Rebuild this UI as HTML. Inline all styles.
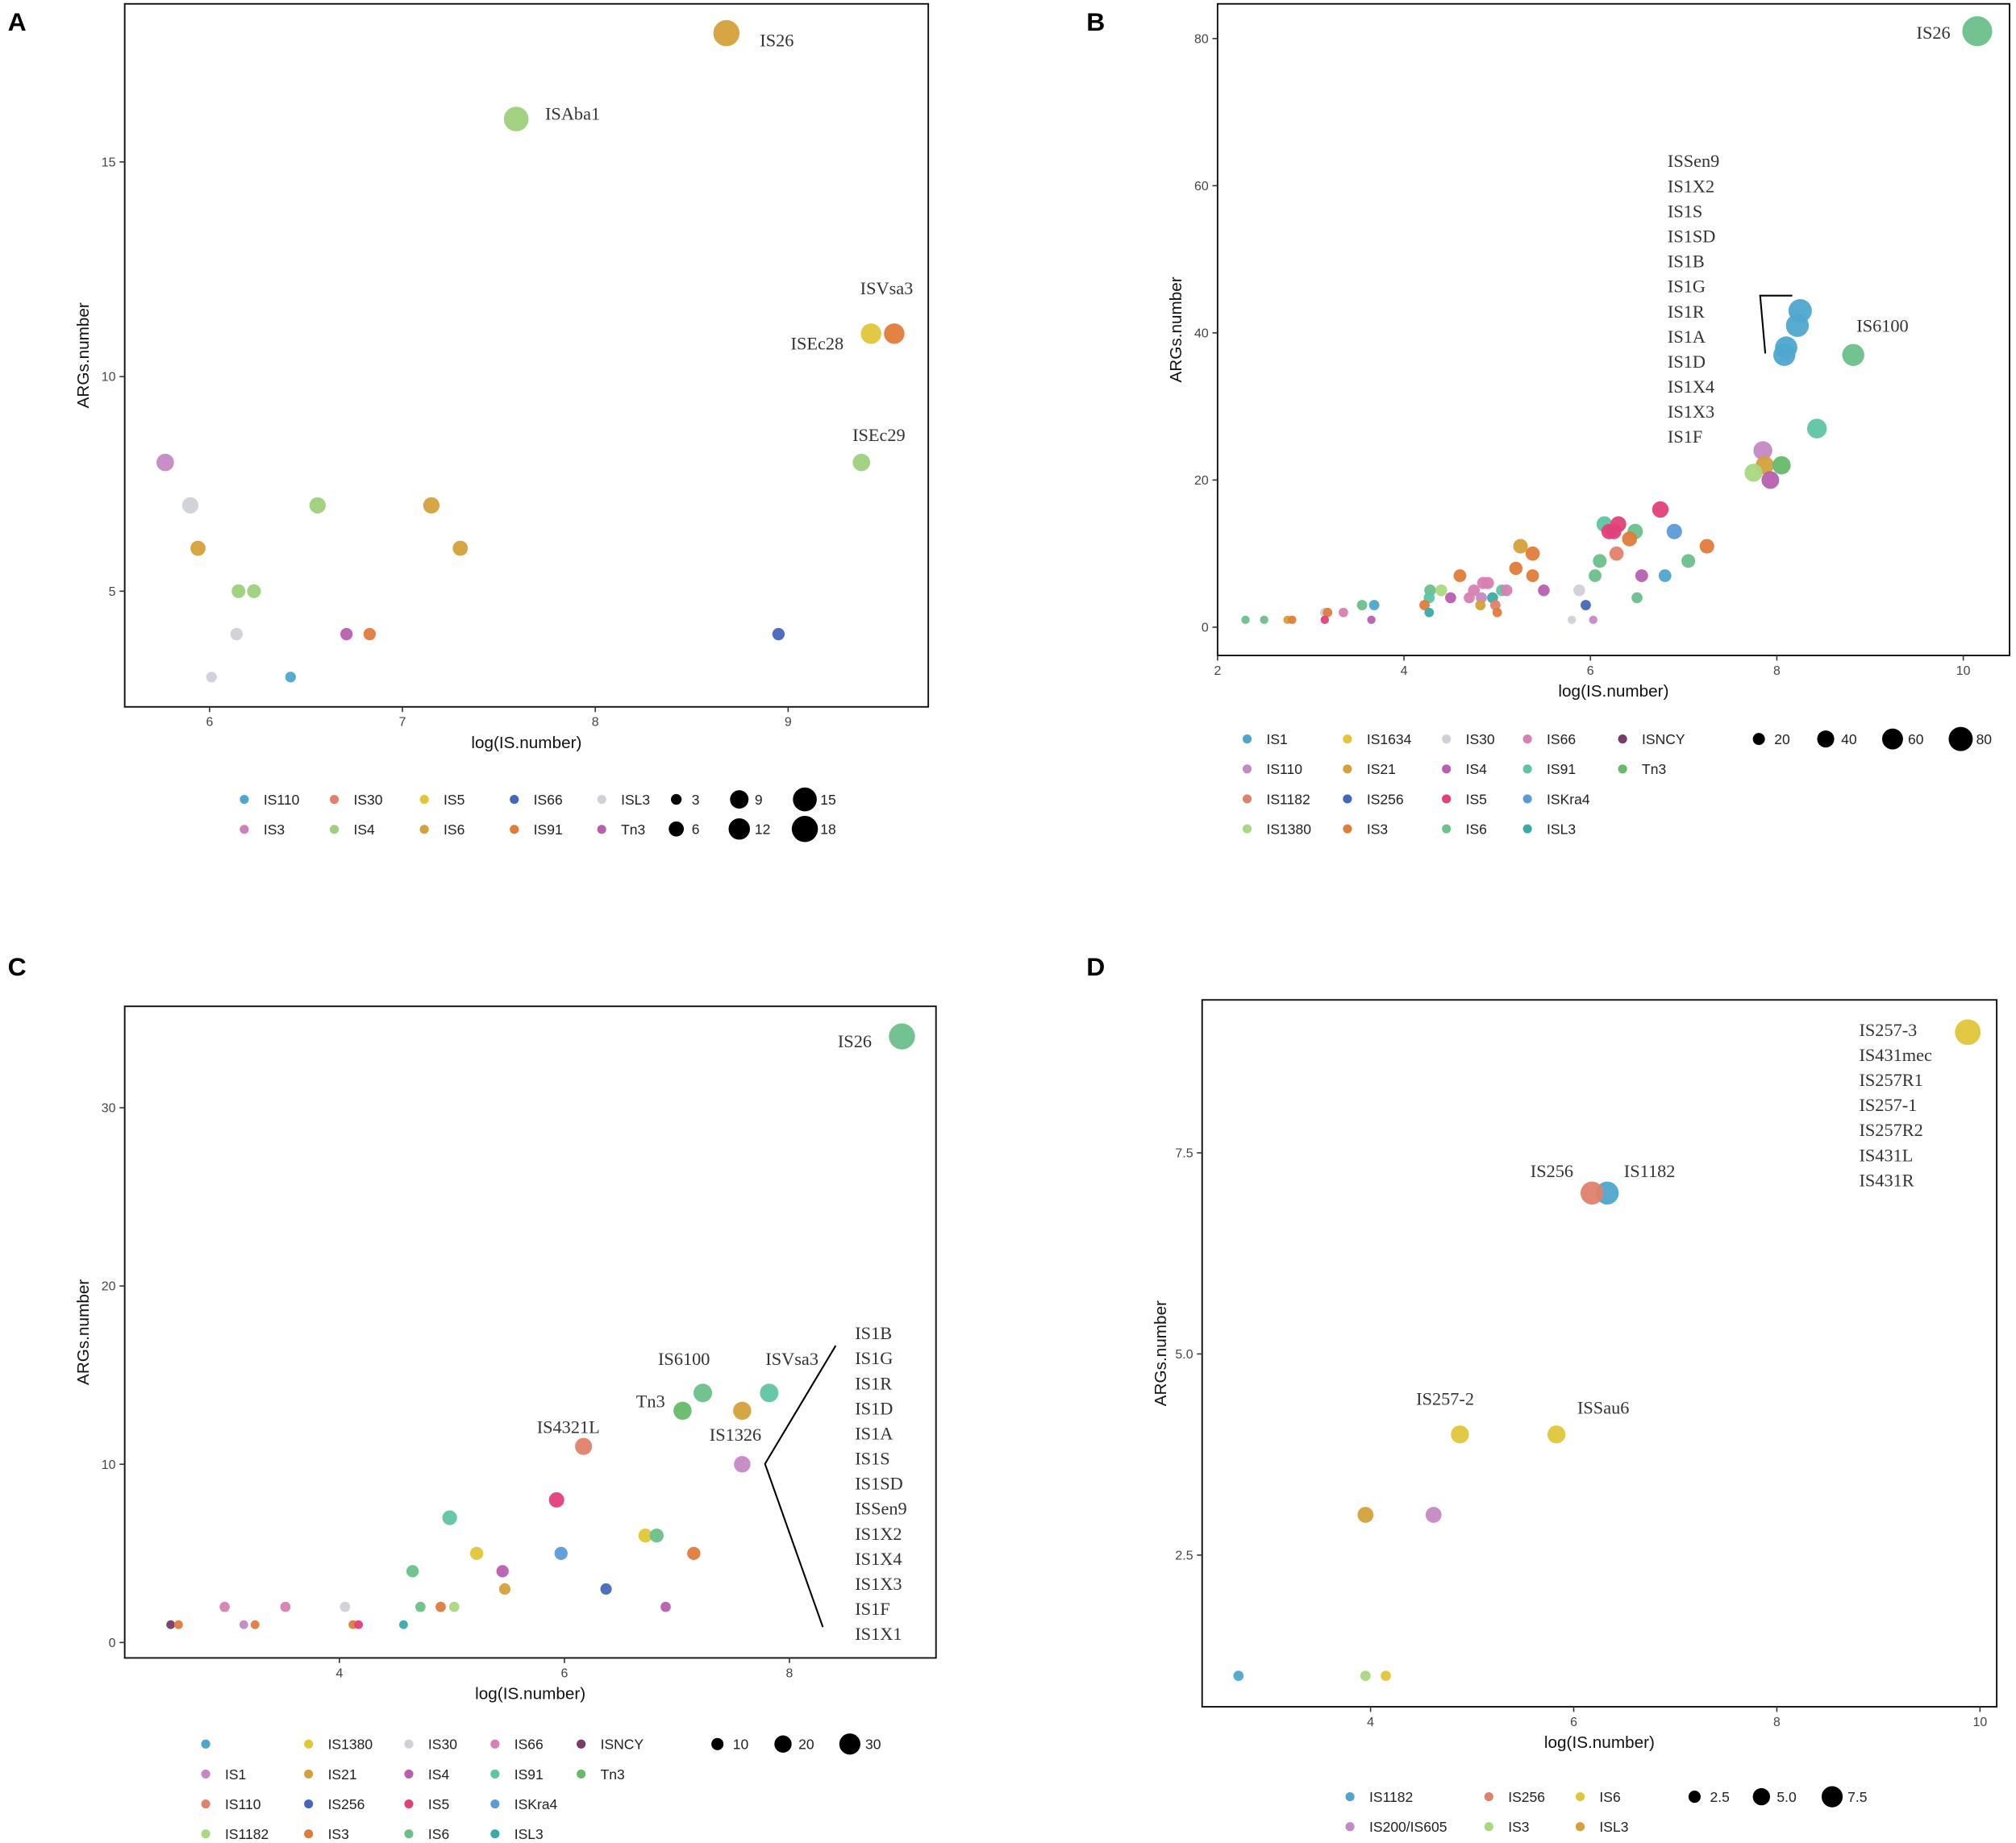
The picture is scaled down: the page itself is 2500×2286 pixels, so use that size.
<!DOCTYPE html>
<html><head><meta charset="utf-8"><style>
html,body{margin:0;padding:0;background:#fff}
svg{display:block}
text{font-family:"Liberation Sans",sans-serif}
.lab{font-family:"Liberation Serif",serif;font-size:14px;fill:#333}
.tick{font-size:10px;fill:#444}
.ttl{font-size:13px;fill:#111}
.leg{font-size:11px;fill:#222}
.pl{font-size:20px;font-weight:bold;fill:#000}
</style></head><body>
<svg id="s" width="2500" height="2286" viewBox="0 0 1568 1434" preserveAspectRatio="none"></svg>
<script>
const C={IS1:"#4EA6CE",IS110:"#C488C4",IS1182:"#E0826A",IS1380:"#A8D880",IS1634:"#E0C63A",IS21:"#D4A13A",IS256:"#4466BB",IS3:"#E07B3A",IS30:"#D0D0D8",IS4:"#B85FB0",IS5:"#E0407A",IS6:"#6CC08A",IS66:"#D880B0",IS91:"#5EC4A4",ISKra4:"#5B9BD8",ISL3:"#3AAAA8",ISNCY:"#7A3A6A",Tn3:"#66BB6A"};
// Panel A data
const aX=[8.68,7.59,9.55,9.43,9.38,5.77,5.9,5.94,6.15,6.23,6.14,6.01,6.42,6.56,7.15,7.3,6.71,6.83,8.95];
const aY=[18,16,11,11,8,8,7,6,5,5,4,3,3,7,7,6,4,4,4];
const aCol=["#D4A13A","#9ED07C","#E07B3A","#E0C63A","#9ED07C","#C488C4","#D0D0D8","#D4A13A","#9ED07C","#9ED07C","#D0D0D8","#D0D0D8","#4EA6CE","#9ED07C","#D4A13A","#D4A13A","#B85FB0","#E07B3A","#4466BB"];
const aXTicks=[6,7,8,9];const aYTicks=[5,10,15];
// Panel B data
const bX=[10.15,8.25,8.22,8.1,8.08,8.82,8.43,7.85,7.87,8.05,7.75,7.93,6.75,6.15,6.3,6.2,6.25,6.48,6.9,6.42,7.25,6.28,5.25,5.38,7.05,6.1,5.2,4.6,5.38,6.05,6.55,6.8,4.28,4.4,4.85,4.9,4.75,5.05,5.1,5.5,5.88,4.27,4.5,4.7,4.83,4.95,3.55,3.68,4.22,4.82,4.98,6.5,5.95,3.15,3.18,3.35,4.27,5.0,2.3,2.5,2.75,2.8,3.15,3.65,5.8,6.03];
const bY=[81,43,41,38,37,37,27,24,22,22,21,20,16,14,14,13,13,13,13,12,11,10,11,10,9,9,8,7,7,7,7,7,5,5,6,6,5,5,5,5,5,4,4,4,4,4,3,3,3,3,3,4,3,2,2,2,2,2,1,1,1,1,1,1,1,1];
const bGrp=["IS6","IS1","IS1","IS1","IS1","IS6","IS91","IS110","IS21","Tn3","IS1380","IS4","IS5","IS91","IS5","IS5","IS5","IS6","ISKra4","IS3","IS3","IS1182","IS21","IS3","IS6","IS6","IS3","IS3","IS3","IS6","IS4","IS1","IS6","IS1380","IS66","IS66","IS66","IS91","IS66","IS4","IS30","IS91","IS4","IS66","IS110","ISL3","IS6","IS1","IS3","IS21","IS1182","IS6","IS256","IS30","IS3","IS66","ISL3","IS3","IS6","IS6","IS21","IS3","IS5","IS4","IS30","IS110"];
const bXTicks=[2,4,6,8,10];const bYTicks=[0,20,40,60,80];
// Panel C data
const cX=[9.0,7.82,7.23,7.05,7.58,7.58,6.17,5.93,4.98,6.72,6.82,5.22,5.97,7.15,4.65,5.45,5.47,6.37,2.98,3.52,4.05,4.72,4.9,5.02,6.9,2.5,2.57,3.15,3.25,4.12,4.17,4.57];
const cY=[34,14,14,13,13,10,11,8,7,6,6,5,5,5,4,4,3,3,2,2,2,2,2,2,2,1,1,1,1,1,1,1];
const cCol=["IS6","IS91","IS6","Tn3","IS21","IS110","IS1182","IS5","IS91","IS1634","IS6","IS1634","ISKra4","IS3","IS6","IS4","IS21","IS256","IS66","IS66","IS30","IS6","IS3","IS1380","IS4","ISNCY","IS3","IS110","IS3","IS3","IS5","ISL3"];
const cXTicks=[4,6,8];const cYTicks=[0,10,20,30];
// Panel D data
const dX=[9.88,6.33,6.18,4.88,5.83,3.95,4.62,2.7,3.95,4.15];
const dY=[9,7,7,4,4,3,3,1,1,1];
const dCol=["#E0C63A","#4EA6CE","#E0826A","#E0C63A","#E0C63A","#D4A13A","#C488C4","#4EA6CE","#A8D880","#E0C63A"];
const dXTicks=[4,6,8,10];const dYTicks=[2.5,5.0,7.5];

const S=document.getElementById('s');const NS="http://www.w3.org/2000/svg";
function mk(tag,at,txt){const e=document.createElementNS(NS,tag);for(const k in at)e.setAttribute(k,at[k]);if(txt!==undefined)e.textContent=txt;S.appendChild(e);return e;}
function panel(p){
  const sx=v=>p.x0+(v-p.vx0)*p.kx, sy=v=>p.y0-(v-p.vy0)*p.ky;
  let e=mk('rect',{x:p.L,y:p.T,width:p.R-p.L,height:p.B-p.T,fill:'none',stroke:'#111','stroke-width':1.2});
  
  
  p.xt.forEach(v=>{mk('line',{x1:sx(v),x2:sx(v),y1:p.B,y2:p.B+4,stroke:'#333'});
    e=mk('text',{x:sx(v),y:p.B+15,'text-anchor':'middle',class:'tick'},v);
    
    });
  p.yt.forEach(v=>{mk('line',{x1:p.L-4,x2:p.L,y1:sy(v),y2:sy(v),stroke:'#333'});
    e=mk('text',{x:p.L-7,y:sy(v)+3.5,'text-anchor':'end',class:'tick'},p.yfmt?v.toFixed(1):v);
    
    });
  e=mk('text',{x:(p.L+p.R)/2,y:p.B+32,'text-anchor':'middle',class:'ttl'},'log(IS.number)');
  
  
  const cy=(p.T+p.B)/2;
  e=mk('text',{x:p.L-28,y:cy,'text-anchor':'middle',class:'ttl',transform:`rotate(-90 ${p.L-28} ${cy})`},'ARGs.number');
  
  
  for(let i=0;i<p.X.length;i++){
    e=mk('circle',{cx:sx(p.X[i]),cy:sy(p.Y[i]),r:p.rf(p.Y[i]),fill:p.col[i],'fill-opacity':0.95});
    
    
  }
}
function lab(x,y,t,anch){const e=mk('text',{x:x,y:y,class:'lab','text-anchor':anch||'start'},t);
  
  }
function stack(x,y,arr){arr.forEach((t,i)=>lab(x,y+i*19.5,t));}
function legend(x0,y0,rows,dx,items){items.forEach((it,i)=>{const c=Math.floor(i/rows),r=i%rows;
  const x=x0+dx[c],y=y0+r*23.3;
  let e=mk('circle',{cx:x,cy:y,r:3.5,fill:it[1]});
  
  
  e=mk('text',{x:x+15,y:y+4,class:'leg'},it[0]);
  
  });}
function sizeLeg(items,rf){items.forEach(it=>{let e=mk('circle',{cx:it[1],cy:it[2],r:rf(it[0]),fill:'#000'});
  
  
  e=mk('text',{x:it[1]+12,y:it[2]+4,class:'leg'},it[3]||it[0]);
  
  });}
function letter(x,y,t){const e=mk('text',{x:x,y:y,class:'pl'},t);
  
  }

// A
const rA=s=>Math.sqrt(s)*2.4;
panel({id:'a',L:97,R:722,T:3,B:550,x0:163,vx0:6,kx:150,y0:460,vy0:5,ky:33.4,xt:aXTicks,yt:aYTicks,X:aX,Y:aY,col:aCol,rf:rA});
lab(591,36,'IS26');lab(424,93,'ISAba1');lab(669,229,'ISVsa3');lab(615,272,'ISEc28');lab(663,343,'ISEc29');
legend(190,622,2,[0,70,140,210,278],[["IS110","#4EA6CE"],["IS3","#D080B8"],["IS30","#E0826A"],["IS4","#9ED07C"],["IS5","#E0C63A"],["IS6","#D4A13A"],["IS66","#4466BB"],["IS91","#E07B3A"],["ISL3","#D0D0D8"],["Tn3","#B85FB0"]]);
sizeLeg([[3,526,622],[9,575,622],[15,626,622],[6,526,645],[12,575,645],[18,626,645]],rA);
letter(6,24,'A');

// B
const rB=s=>2.2+Math.sqrt(s)*1.05;
panel({id:'b',L:947,R:1563,T:3,B:510,x0:947,vx0:2,kx:72.5,y0:488,vy0:0,ky:5.725,xt:bXTicks,yt:bYTicks,X:bX,Y:bY,col:bGrp.map(g=>C[g]),rf:rB});
lab(1517,30,'IS26','end');lab(1444,258,'IS6100');
stack(1297,130,["ISSen9","IS1X2","IS1S","IS1SD","IS1B","IS1G","IS1R","IS1A","IS1D","IS1X4","IS1X3","IS1F"]);
mk('polyline',{points:'1394,230 1369,230 1373,275',fill:'none',stroke:'#000','stroke-width':1.3});
legend(970,575,4,[0,78,155,218,292],[["IS1",C.IS1],["IS110",C.IS110],["IS1182",C.IS1182],["IS1380",C.IS1380],["IS1634",C.IS1634],["IS21",C.IS21],["IS256",C.IS256],["IS3",C.IS3],["IS30",C.IS30],["IS4",C.IS4],["IS5",C.IS5],["IS6",C.IS6],["IS66",C.IS66],["IS91",C.IS91],["ISKra4",C.ISKra4],["ISL3",C.ISL3],["ISNCY",C.ISNCY],["Tn3",C.Tn3]]);
sizeLeg([[20,1368,575],[40,1420,575],[60,1472,575],[80,1525,575]],s=>Math.sqrt(s)*1.05);
letter(845,24,'B');

// C
const cC={"":"#4EA6CE",IS1:"#C488C4",IS110:"#E0826A",IS1182:"#A8D880",IS1380:"#E0C63A",IS21:"#D4A13A",IS256:"#4466BB",IS3:"#E07B3A",IS30:"#D0D0D8",IS4:"#B85FB0",IS5:"#E0407A",IS6:"#6CC08A",IS66:"#D880B0",IS91:"#5EC4A4",ISKra4:"#5B9BD8",ISL3:"#3AAAA8",ISNCY:"#7A3A6A",Tn3:"#66BB6A"};
const rC=s=>2+Math.sqrt(s)*1.4;
panel({id:'c',L:97,R:728,T:783,B:1290,x0:264,vx0:4,kx:87.5,y0:1278,vy0:0,ky:13.87,xt:cXTicks,yt:cYTicks,X:cX,Y:cY,col:cCol.map(g=>C[g]),rf:rC});
lab(678,815,'IS26','end');lab(532,1062,'IS6100','middle');lab(616,1062,'ISVsa3','middle');lab(506,1095,'Tn3','middle');lab(442,1115,'IS4321L','middle');lab(572,1121,'IS1326','middle');
stack(665,1042,["IS1B","IS1G","IS1R","IS1D","IS1A","IS1S","IS1SD","ISSen9","IS1X2","IS1X4","IS1X3","IS1F","IS1X1"]);
mk('polyline',{points:'650,1047 595,1139 640,1266',fill:'none',stroke:'#000','stroke-width':1.3});
legend(160,1357,4,[0,80,158,225,292],Object.keys(cC).map(k=>[k,cC[k]]));
sizeLeg([[10,558,1357],[20,609,1357],[30,661,1357]],s=>Math.sqrt(s)*1.5);
letter(6,759,'C');

// D
const rD=s=>1+Math.sqrt(s)*3;
panel({id:'d',L:935,R:1553,T:778,B:1328,x0:1066,vx0:4,kx:79,y0:1210,vy0:2.5,ky:62.6,xt:dXTicks,yt:dYTicks,yfmt:true,X:dX,Y:dY,col:dCol,rf:rD});
stack(1446,806,["IS257-3","IS431mec","IS257R1","IS257-1","IS257R2","IS431L","IS431R"]);
lab(1207,916,'IS256','middle');lab(1283,916,'IS1182','middle');lab(1124,1093,'IS257-2','middle');lab(1247,1100,'ISSau6','middle');
legend(1050,1398,2,[0,108,179],[["IS1182","#4EA6CE"],["IS200/IS605","#C488C4"],["IS256","#E0826A"],["IS3","#A8D880"],["IS6","#E0C63A"],["ISL3","#D4A13A"]]);
sizeLeg([[2.5,1318,1398,"2.5"],[5.0,1370,1398,"5.0"],[7.5,1425,1398,"7.5"]],s=>Math.sqrt(s)*3);
letter(845,759,'D');
</script>
</body></html>
